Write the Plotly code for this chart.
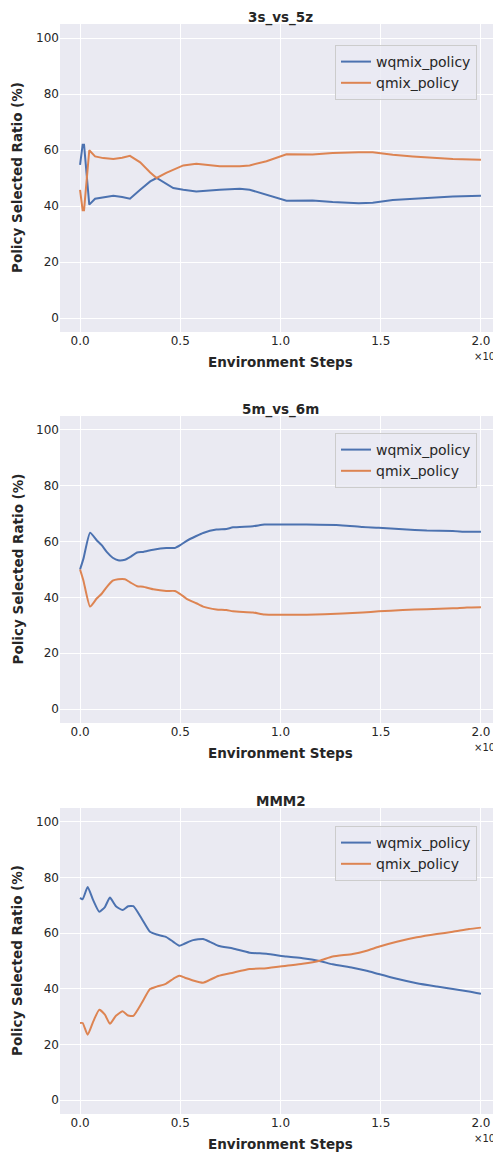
import plotly.graph_objects as go

# ---------------- data (x in millions of environment steps) ----------------
titles = ["3s_vs_5z", "5m_vs_6m", "MMM2"]
series_names = ["wqmix_policy", "qmix_policy"]

x_3s5z = [0.0, 0.013, 0.02, 0.046, 0.075, 0.116, 0.166, 0.21, 0.249, 0.3, 0.35, 0.382,
          0.43, 0.465, 0.515, 0.58, 0.697, 0.797, 0.846, 0.93, 1.03, 1.16, 1.26, 1.39,
          1.46, 1.56, 1.66, 1.86, 2.0]
wqmix_3s5z = [54.7, 61.9, 61.9, 40.5, 42.6, 43.2, 43.7, 43.2, 42.6, 45.8, 48.8, 50.0,
              47.8, 46.4, 45.8, 45.2, 45.8, 46.2, 45.8, 44.0, 41.9, 42.0, 41.4, 41.0,
              41.2, 42.1, 42.6, 43.4, 43.7]
qmix_3s5z = [45.8, 38.5, 38.5, 59.9, 57.7, 57.1, 56.8, 57.2, 57.9, 55.6, 52.0, 50.0,
             51.8, 53.0, 54.5, 55.1, 54.2, 54.2, 54.5, 56.0, 58.5, 58.4, 58.9, 59.2,
             59.2, 58.3, 57.7, 56.8, 56.5]

x_5m6m = [0.0, 0.017, 0.05, 0.083, 0.108, 0.133, 0.163, 0.19, 0.224, 0.25, 0.285, 0.315,
          0.365, 0.43, 0.473, 0.5, 0.53, 0.58, 0.614, 0.68, 0.73, 0.763, 0.863, 0.92,
          1.0, 1.13, 1.31, 1.41, 1.49, 1.61, 1.73, 1.86, 1.93, 2.0]
wqmix_5m6m = [50.0, 53.9, 63.2, 60.5, 58.7, 56.3, 54.2, 53.3, 53.5, 54.5, 56.1, 56.3,
              57.1, 57.7, 57.7, 58.7, 60.2, 62.0, 63.1, 64.3, 64.5, 65.1, 65.5, 66.1,
              66.1, 66.1, 65.8, 65.2, 65.0, 64.4, 64.0, 63.8, 63.5, 63.5]
qmix_5m6m = [50.0, 46.0, 36.7, 39.6, 41.3, 43.7, 46.0, 46.5, 46.5, 45.4, 44.0, 43.8,
             42.9, 42.3, 42.3, 41.2, 39.6, 37.9, 36.7, 35.7, 35.5, 35.0, 34.6, 33.9,
             33.8, 33.8, 34.2, 34.6, 35.0, 35.5, 35.8, 36.1, 36.4, 36.5]

x_mmm2 = [0.0, 0.013, 0.038, 0.066, 0.096, 0.124, 0.149, 0.179, 0.212, 0.24, 0.266, 0.307,
          0.349, 0.382, 0.428, 0.465, 0.495, 0.523, 0.564, 0.614, 0.647, 0.689, 0.763,
          0.846, 0.93, 1.03, 1.11, 1.195, 1.26, 1.36, 1.43, 1.49, 1.58, 1.68, 1.78,
          1.86, 1.94, 2.0]
wqmix_mmm2 = [72.7, 72.2, 76.6, 71.8, 67.7, 69.4, 72.8, 69.7, 68.3, 69.7, 69.7, 65.3,
              60.5, 59.5, 58.7, 56.9, 55.5, 56.3, 57.5, 57.9, 56.9, 55.5, 54.5, 53.0,
              52.6, 51.6, 51.0, 50.0, 48.8, 47.6, 46.5, 45.3, 43.6, 42.0, 40.8, 39.9,
              39.0, 38.2]
qmix_mmm2 = [27.7, 27.7, 23.5, 28.3, 32.5, 30.7, 27.4, 30.3, 31.9, 30.4, 30.3, 34.8,
             39.9, 40.8, 41.8, 43.6, 44.7, 44.0, 43.0, 42.2, 43.2, 44.6, 45.8, 47.1,
             47.4, 48.3, 49.0, 50.1, 51.6, 52.5, 53.7, 55.1, 56.9, 58.5, 59.7, 60.5,
             61.5, 62.0]

xs = [x_3s5z, x_5m6m, x_mmm2]
ys = [[wqmix_3s5z, qmix_3s5z], [wqmix_5m6m, qmix_5m6m], [wqmix_mmm2, qmix_mmm2]]
x_ticks = [0.0, 0.5, 1.0, 1.5, 2.0]
y_ticks = [0, 20, 40, 60, 80, 100]

# ---------------- layout helpers ----------------
# The page body has an 8px margin, so the figure is drawn 8px right/down of the
# window corner; all screen positions below are converted to figure positions.
OFF = 8
W, H = 501 - OFF, 1155 - OFF
ML, MR, MT, MB = 60 - OFF, 0, 24 - OFF, H - (1114 - OFF)
PW, PH = W - ML - MR, H - MT - MB


def py(ypx):  # screen y -> paper fraction
    return (H - MB - (ypx - OFF)) / PH


def pxx(xpx):  # screen x -> paper fraction
    return (xpx - OFF - ML) / PW


panels_px = [(24, 332), (416, 723), (808, 1114)]
legend_top_px = [45, 433, 826]
colors = ["#4C72B0", "#DD8452"]
text_col = "#262626"
FONT = "DejaVu Sans"

fig = go.Figure()
annotations = []
layout_upd = {}
for i in range(3):
    n = "" if i == 0 else str(i + 1)
    xa, ya = "x" + n, "y" + n
    leg = "legend" + n
    for j in range(2):
        fig.add_trace(go.Scatter(
            x=xs[i], y=ys[i][j], mode="lines", name=series_names[j],
            line=dict(color=colors[j], width=2,
                      shape="linear" if i == 0 else "spline",
                      smoothing=0.5),
            xaxis=xa, yaxis=ya, legend=leg, showlegend=True))
    top, bot = panels_px[i]
    layout_upd["xaxis" + n] = dict(
        domain=[0, 1], anchor=ya, range=[-0.1, 2.1], tickvals=x_ticks,
        ticktext=["%.1f" % v for v in x_ticks], showgrid=True, gridcolor="white",
        gridwidth=1, zeroline=False, showline=False, ticks="",
        tickfont=dict(family=FONT, size=12, color=text_col))
    layout_upd["yaxis" + n] = dict(
        domain=[py(bot), py(top)], anchor=xa, range=[-5, 105], tickvals=y_ticks,
        showgrid=True, gridcolor="white", gridwidth=1, zeroline=False,
        showline=False, ticks="", ticklen=0,
        tickfont=dict(family=FONT, size=12, color=text_col))
    layout_upd[leg] = dict(
        x=pxx(477), xanchor="right", y=py(legend_top_px[i]), yanchor="top",
        xref="paper", yref="paper",
        bgcolor="rgba(234,234,242,0.8)", bordercolor="#cccccc", borderwidth=1,
        font=dict(family=FONT, size=14, color=text_col), tracegroupgap=0,
        itemwidth=30)
    # panel title (top-anchored so the first one stays inside the figure)
    annotations.append(dict(text="<b>%s</b>" % titles[i], xref="paper", yref="paper",
                            x=pxx(280.5), y=py(top - 16), xanchor="center",
                            yanchor="top", showarrow=False, borderpad=0,
                            font=dict(family=FONT, size=13.5, color=text_col)))
    # x label
    annotations.append(dict(text="<b>Environment Steps</b>", xref="paper", yref="paper",
                            x=pxx(280.5), y=py(bot + 30), xanchor="center",
                            yanchor="middle", showarrow=False,
                            font=dict(family=FONT, size=13.5, color=text_col)))
    # y label
    annotations.append(dict(text="<b>Policy Selected Ratio (%)</b>", xref="paper",
                            yref="paper", x=pxx(17), y=py((top + bot) / 2),
                            xanchor="center", yanchor="middle", textangle=-90,
                            showarrow=False,
                            font=dict(family=FONT, size=13.5, color=text_col)))
    # offset text
    annotations.append(dict(text="×10⁶", xref="paper", yref="paper",
                            x=pxx(500), y=py(bot + 24), xanchor="right",
                            yanchor="middle", showarrow=False, borderpad=0,
                            font=dict(family=FONT, size=10, color=text_col)))

fig.update_layout(**layout_upd)
fig.update_layout(
    width=W, height=H, margin=dict(l=ML, r=MR, t=MT, b=MB),
    paper_bgcolor="white", plot_bgcolor="#EAEAF2",
    font=dict(family=FONT, color=text_col),
    annotations=annotations)

fig.write_html("out.html")
